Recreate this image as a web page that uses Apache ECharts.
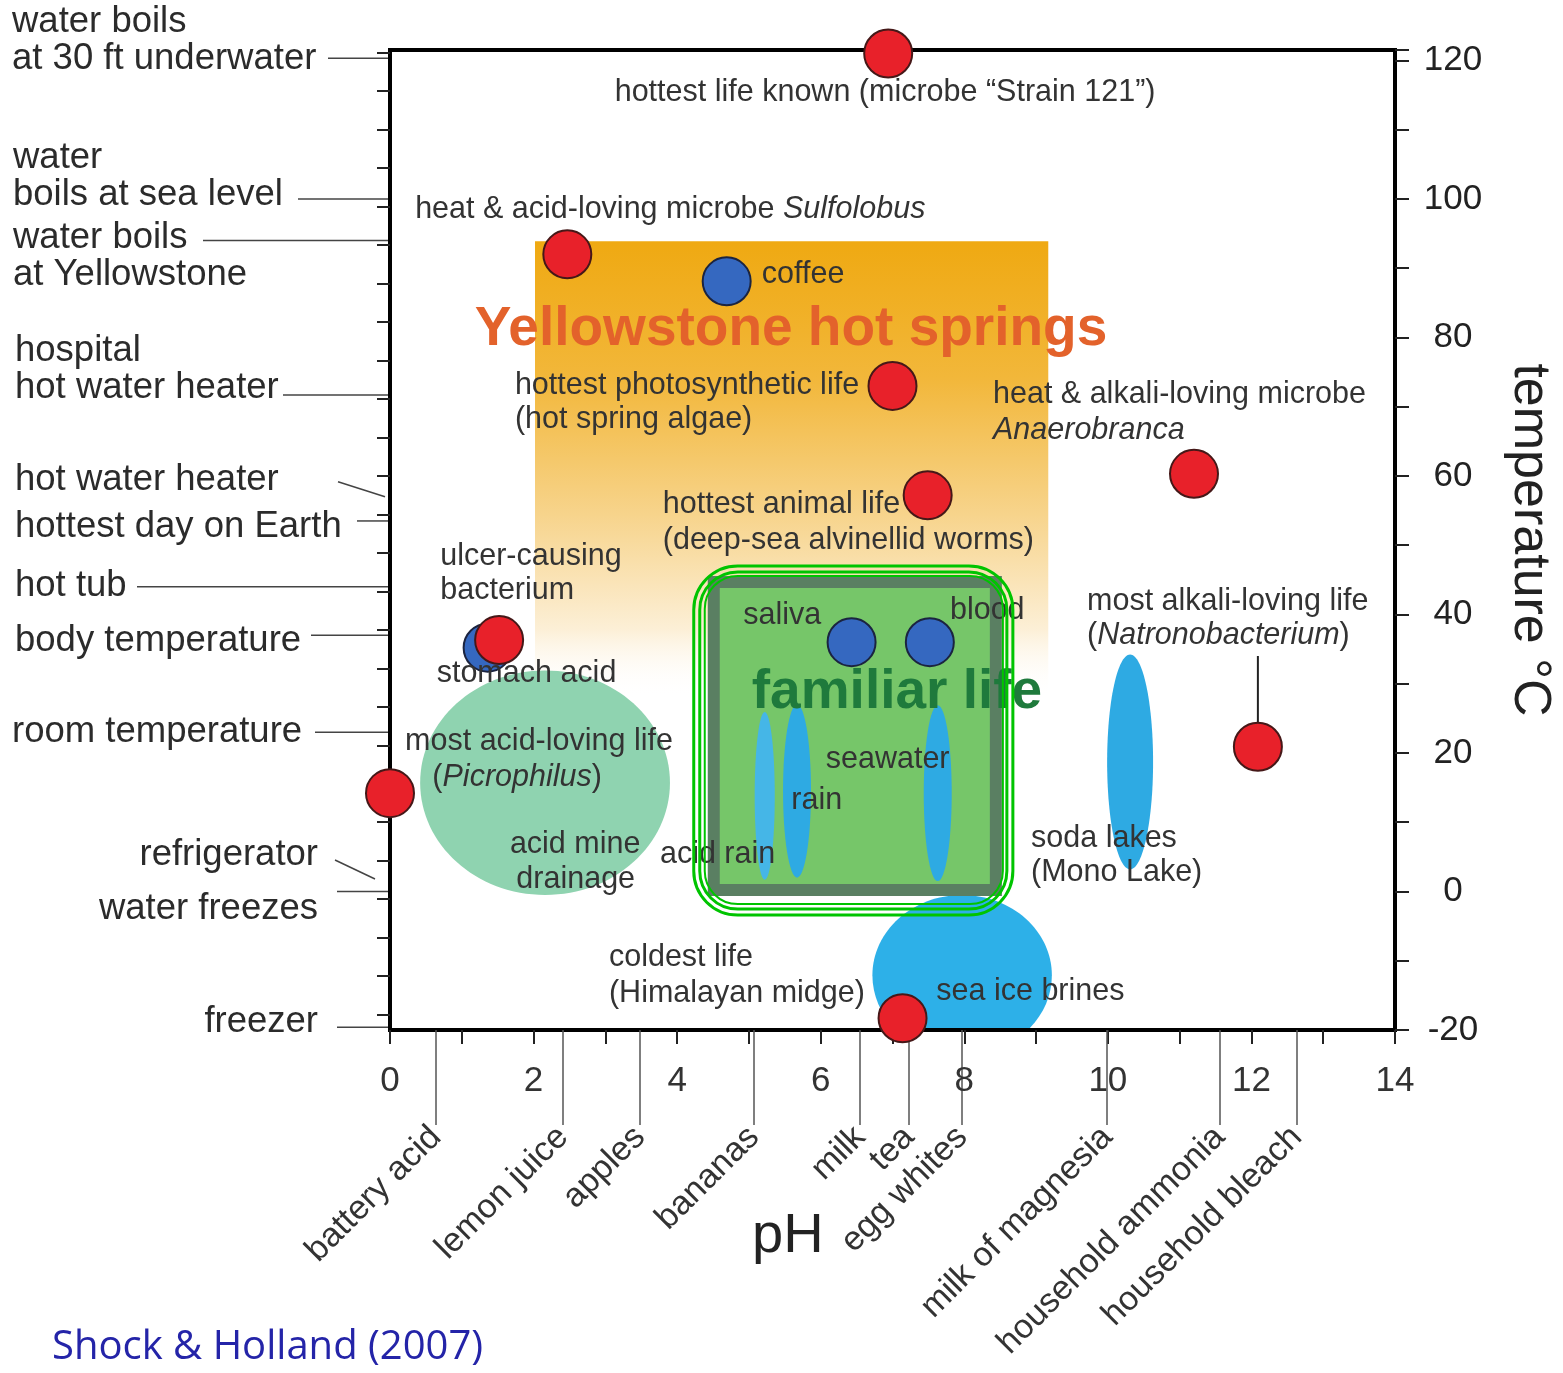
<!DOCTYPE html>
<html><head><meta charset="utf-8">
<script src="https://cdn.jsdelivr.net/npm/echarts@6/dist/echarts.min.js"></script>
<style>html,body{margin:0;padding:0;background:#fff}#c{width:1563px;height:1373px}</style>
</head><body><div id="c"></div>
<script>
// ---------------- data ----------------
const phTicks = [0, 2, 4, 6, 8, 10, 12, 14];
const tempTicks = [-20, 0, 20, 40, 60, 80, 100, 120];
const fahrenheitTicks = [0, 10, 20, 30, 40, 50, 60, 70, 80, 90, 100, 110, 120, 130, 140, 150, 160, 170, 180, 190, 200, 210, 220, 230, 240, 250];

const itemNames = ['battery acid', 'lemon juice', 'apples', 'bananas', 'milk', 'tea', 'egg whites', 'milk of magnesia', 'household ammonia', 'household bleach'];
const itemPH = [0.64, 2.41, 3.48, 5.07, 6.55, 7.23, 7.97, 9.99, 11.56, 12.63];

const lifeNames = ['hottest life known', 'Sulfolobus', 'hottest photosynthetic life', 'hottest animal life', 'Anaerobranca', 'ulcer-causing bacterium', 'Picrophilus', 'Natronobacterium', 'coldest life'];
const lifePH = [6.94, 2.47, 7.0, 7.49, 11.2, 1.52, 0.0, 12.09, 7.14];
const lifeTemp = [121, 92, 73, 57.2, 60.3, 36.3, 14.2, 20.9, -18.3];

const fluidNames = ['coffee', 'stomach acid', 'saliva', 'blood'];
const fluidPH = [4.69, 1.36, 6.43, 7.52];
const fluidTemp = [88.1, 35.2, 36.0, 36.0];

const refNames = ['water boils\nat 30 ft underwater', 'water\nboils at sea level', 'water boils\nat Yellowstone', 'hospital\nhot water heater', 'hot water heater', 'hottest day on Earth', 'hot tub', 'body temperature', 'room temperature', 'refrigerator', 'water freezes', 'freezer'];
const refTemp = [120.3, 100, 94, 71.7, 57, 53.5, 44, 37, 23, 1.8, 0, -19.6];

// regions: [pH min, pH max, T min, T max]
const yellowstoneSpan = [2.02, 9.17, 28, 93.9];
const familiarSpan = [4.51, 8.44, 0.2, 44.7];
const natronoLink = [[12.09, 34.0], [12.09, 20.9]];

// environments drawn as ellipses: centre and half extents
const blobNames = ['acid mine drainage', 'sea ice brines', 'acid rain', 'rain', 'seawater', 'soda lakes'];
const blobPH = [2.16, 7.97, 5.22, 5.67, 7.63, 10.31];
const blobTemp = [15.7, -12.1, 13.8, 14.5, 14.2, 18.7];
const blobPHHalf = [1.74, 1.25, 0.14, 0.195, 0.195, 0.32];
const blobTempHalf = [16.2, 11.6, 12.1, 12.5, 12.7, 15.5];

// ---------------- layout / style ----------------
const FONT = "'Liberation Sans', Arial, Helvetica, sans-serif";
const GRID = {left: 390, right: 168, top: 50, bottom: 343};
const Y_MAX = 121.5;
const toF = c => c * 9 / 5 + 32;
const blobColors = ['#8fd3b0', '#2db0e8', '#45b6e7', '#2eaae3', '#2eaae3', '#2eaae3'];

// annotation anchors (left / middle of text) in data space
const notes = [
  ['hottest life known (microbe “Strain 121”)', 3.13, 115.3],
  ['heat & acid-loving microbe {i|Sulfolobus}', 0.35, 98.4],
  ['coffee', 5.18, 89.0],
  ['hottest photosynthetic life', 1.74, 73.1],
  ['(hot spring algae)', 1.74, 68.1],
  ['heat & alkali-loving microbe', 8.40, 71.7],
  ['{i|Anaerobranca}', 8.40, 66.6],
  ['hottest animal life', 3.80, 55.8],
  ['(deep-sea alvinellid worms)', 3.80, 50.6],
  ['ulcer-causing', 0.70, 48.3],
  ['bacterium', 0.70, 43.4],
  ['most alkali-loving life', 9.71, 41.9],
  ['({i|Natronobacterium})', 9.71, 36.9],
  ['saliva', 4.92, 39.9],
  ['blood', 7.80, 40.5],
  ['stomach acid', 0.65, 31.5],
  ['most acid-loving life', 0.21, 21.6],
  ['({i|Picrophilus})', 0.59, 16.5],
  ['seawater', 6.07, 19.0],
  ['rain', 5.59, 13.1],
  ['acid mine', 1.67, 6.7],
  ['drainage', 1.76, 1.66],
  ['acid rain', 3.76, 5.3],
  ['soda lakes', 8.93, 7.7],
  ['(Mono Lake)', 8.93, 2.7],
  ['coldest life', 3.05, -9.6],
  ['(Himalayan midge)', 3.05, -14.7],
  ['sea ice brines', 7.61, -14.5]
];
const bigNotes = [
  ['Yellowstone hot springs', 1.18, 81.1, '#e3622b'],
  ['familiar life', 5.04, 28.7, '#1f7a3c']
];

// left reference labels: text dx, block-centre dy, leader line from/to (px, relative to axis point)
const refLayout = [
  {dx: -378, dy: -17.5, from: [-62, 0], to: [-2, 0]},
  {dx: -377, dy: -22.5, from: [-92, 0], to: [-2, 0]},
  {dx: -377, dy: 16, from: [-187, 0], to: [-2, 0]},
  {dx: -375, dy: -25, from: [-107, 0], to: [-2, 0]},
  {dx: -375, dy: -17, from: [-52, -15], to: [-5, 0]},
  {dx: -375, dy: 6, from: [-33, 0], to: [-2, 0]},
  {dx: -375, dy: -1, from: [-253, 0], to: [-2, 0]},
  {dx: -375, dy: 6, from: [-79, 0], to: [-2, 0]},
  {dx: -378, dy: 0, from: [-75, 0], to: [-2, 0]},
  {dx: -72, dy: -24, from: [-55, -19], to: [-15, 0], align: 'right'},
  {dx: -72, dy: 17, from: [-53, 0], to: [-2, 0], align: 'right'},
  {dx: -72, dy: -5, from: [-53, 0], to: [-2, 0], align: 'right'}
];
const outlineRings = [
  {l: 20, r: 17, t: 16, b: 25, radius: 44, w: 3},
  {l: 14, r: 11, t: 10, b: 19, radius: 38, w: 3},
  {l: 9, r: 7, t: 6, b: 14, radius: 33, w: 2}
];

const nearestItem = v => {
  let k = 0;
  itemPH.forEach((p, i) => { if (Math.abs(p - v) < Math.abs(itemPH[k] - v)) k = i; });
  return itemNames[k];
};

const chart = echarts.init(document.getElementById('c'), null, {renderer: 'canvas', width: 1563, height: 1373});

function blobSeries(idx, z) {
  return {
    type: 'custom', xAxisIndex: 0, yAxisIndex: 0, z: z, silent: true,
    data: idx.map(i => [blobPH[i], blobTemp[i], blobPHHalf[i], blobTempHalf[i], i]),
    renderItem: (p, api) => {
      const c = api.coord([api.value(0), api.value(1)]);
      const s = api.size([api.value(2), api.value(3)]);
      const cs = p.coordSys;
      return {
        type: 'ellipse',
        shape: {cx: c[0], cy: c[1], rx: s[0], ry: s[1]},
        style: {fill: blobColors[api.value(4)]},
        clipPath: {type: 'rect', shape: {x: cs.x, y: cs.y, width: cs.width, height: cs.height - 2}}
      };
    }
  };
}

const textStyle = (txt, size, color, weight) => ({
  text: txt, fontSize: size, fontFamily: FONT, fontWeight: weight || 'normal', fill: color,
  align: 'left', verticalAlign: 'middle',
  rich: {i: {fontStyle: 'italic', fontSize: size, fontFamily: FONT, fill: color}}
});

const option = {
  animation: false,
  backgroundColor: '#ffffff',
  textStyle: {fontFamily: FONT},
  grid: [
    Object.assign({show: true, borderColor: '#000', borderWidth: 4, backgroundColor: 'transparent', outerBoundsMode: 'none'}, GRID),
    Object.assign({show: false, outerBoundsMode: 'none'}, GRID)
  ],
  xAxis: [
    {
      type: 'value', gridIndex: 0, min: 0, max: 14, interval: 1, position: 'bottom',
      axisLine: {show: false, onZero: false}, splitLine: {show: false},
      axisTick: {show: true, length: 14, lineStyle: {color: '#222', width: 2}},
      axisLabel: {fontSize: 35, color: '#333', fontFamily: FONT, margin: 34,
        formatter: v => phTicks.includes(v) ? String(v) : ''}
    },
    {
      type: 'value', gridIndex: 1, min: 0, max: 14, position: 'bottom',
      axisLine: {show: false, onZero: false}, splitLine: {show: false},
      axisTick: {show: true, customValues: itemPH, length: 95, lineStyle: {color: '#555', width: 1.5}},
      axisLabel: {customValues: itemPH, rotate: 45, margin: 102, fontSize: 34, color: '#333', fontFamily: FONT,
        formatter: v => nearestItem(v)}
    }
  ],
  yAxis: [
    {
      type: 'value', gridIndex: 0, min: -20, max: Y_MAX, interval: 10, position: 'right',
      axisLine: {show: false, onZero: false}, splitLine: {show: false},
      axisTick: {show: true, length: 14, lineStyle: {color: '#222', width: 2}},
      axisLabel: {fontSize: 35, color: '#222', fontFamily: FONT, align: 'center', margin: 58,
        formatter: v => tempTicks.includes(v) ? String(v) : ''},
      name: 'temperature °C', nameLocation: 'middle', nameRotate: -90, nameGap: 108,
      nameTextStyle: {fontSize: 52, color: '#222', fontFamily: FONT}
    },
    {
      type: 'value', gridIndex: 0, min: toF(-20), max: toF(Y_MAX), position: 'left',
      axisLine: {show: false, onZero: false}, splitLine: {show: false},
      axisTick: {show: true, customValues: fahrenheitTicks, length: 13, lineStyle: {color: '#222', width: 2}},
      axisLabel: {show: false}
    },
    {type: 'value', gridIndex: 1, min: -20, max: Y_MAX, show: false, axisLine: {onZero: false}}
  ],
  graphic: [
    {type: 'text', x: 752, y: 1237, style: {text: 'pH', fontSize: 56, fontFamily: FONT, fill: '#222', verticalAlign: 'middle'}},
    {type: 'text', x: 52, y: 1348, style: {text: 'Shock & Holland (2007)', fontSize: 40, fontFamily: "'Open Sans', 'Noto Sans', sans-serif", fill: '#2424a8', verticalAlign: 'middle'}}
  ],
  series: [
    {
      name: 'Yellowstone hot springs', type: 'custom', xAxisIndex: 0, yAxisIndex: 0, z: 1, silent: true,
      data: [yellowstoneSpan],
      renderItem: (p, api) => {
        const a = api.coord([api.value(0), api.value(3)]);
        const b = api.coord([api.value(1), api.value(2)]);
        return {
          type: 'rect',
          shape: {x: a[0], y: a[1], width: b[0] - a[0], height: b[1] - a[1]},
          style: {fill: {type: 'linear', x: 0, y: 0, x2: 0, y2: 1, colorStops: [
            {offset: 0, color: '#efa912'}, {offset: 0.3, color: '#f2b73a'},
            {offset: 0.6, color: '#f7d48c'}, {offset: 0.85, color: '#fcefd6'},
            {offset: 1, color: 'rgba(255,255,255,0)'}]}}
        };
      }
    },
    blobSeries([0, 1], 2),
    {
      name: 'familiar life', type: 'custom', xAxisIndex: 0, yAxisIndex: 0, z: 3, silent: true,
      data: [familiarSpan],
      renderItem: (p, api) => {
        const a = api.coord([api.value(0), api.value(3)]);
        const b = api.coord([api.value(1), api.value(2)]);
        return {
          type: 'rect',
          shape: {x: a[0], y: a[1], width: b[0] - a[0], height: b[1] - a[1]},
          style: {fill: '#76c669', stroke: '#5a7f62', lineWidth: 12}
        };
      }
    },
    blobSeries([2, 3, 4, 5], 4),
    {
      name: 'Natronobacterium link', type: 'line', xAxisIndex: 0, yAxisIndex: 0, z: 4, silent: true,
      data: natronoLink, symbol: 'none', lineStyle: {color: '#222', width: 2}
    },
    {
      name: 'fluids', type: 'scatter', xAxisIndex: 0, yAxisIndex: 0, z: 5, clip: false, silent: true,
      data: fluidPH.map((x, i) => [x, fluidTemp[i]]),
      symbolSize: 48,
      itemStyle: {color: '#3568c0', borderColor: '#1b2440', borderWidth: 2, opacity: 1}
    },
    {
      name: 'life', type: 'scatter', xAxisIndex: 0, yAxisIndex: 0, z: 6, clip: false, silent: true,
      data: lifePH.map((x, i) => [x, lifeTemp[i]]),
      symbolSize: 48,
      itemStyle: {color: '#e8212a', borderColor: '#451818', borderWidth: 2, opacity: 1}
    },
    {
      name: 'outline', type: 'custom', xAxisIndex: 0, yAxisIndex: 0, z: 8, silent: true,
      data: [familiarSpan],
      renderItem: (p, api) => {
        const a = api.coord([api.value(0), api.value(3)]);
        const b = api.coord([api.value(1), api.value(2)]);
        return {
          type: 'group',
          children: outlineRings.map(r => ({
            type: 'rect',
            shape: {x: a[0] - r.l, y: a[1] - r.t, width: b[0] - a[0] + r.l + r.r, height: b[1] - a[1] + r.t + r.b, r: r.radius},
            style: {fill: null, stroke: '#00c400', lineWidth: r.w}
          }))
        };
      }
    },
    {
      name: 'notes', type: 'custom', xAxisIndex: 0, yAxisIndex: 0, z: 7, silent: true,
      data: notes.map((n, i) => [n[1], n[2], i]),
      renderItem: (p, api) => {
        const c = api.coord([api.value(0), api.value(1)]);
        const n = notes[api.value(2)];
        return {type: 'text', x: c[0], y: c[1], style: textStyle(n[0], 30.5, '#333')};
      }
    },
    {
      name: 'big notes', type: 'custom', xAxisIndex: 0, yAxisIndex: 0, z: 7, silent: true,
      data: bigNotes.map((n, i) => [n[1], n[2], i]),
      renderItem: (p, api) => {
        const c = api.coord([api.value(0), api.value(1)]);
        const n = bigNotes[api.value(2)];
        return {type: 'text', x: c[0], y: c[1], style: textStyle(n[0], 55, n[3], 'bold')};
      }
    },
    {
      name: 'reference temperatures', type: 'custom', xAxisIndex: 0, yAxisIndex: 0, z: 7, silent: true,
      data: refTemp.map((t, i) => [0, t, i]),
      renderItem: (p, api) => {
        const i = api.value(2);
        const o = api.coord([0, api.value(1)]);
        const L = refLayout[i];
        return {
          type: 'group',
          children: [
            {type: 'text', x: o[0] + L.dx, y: o[1] + L.dy, style: {
              text: refNames[i], fontSize: 36.5, fontFamily: FONT, fill: '#2b2b2b', lineHeight: 37,
              align: L.align || 'left', verticalAlign: 'middle'}},
            {type: 'line', shape: {x1: o[0] + L.from[0], y1: o[1] + L.from[1], x2: o[0] + L.to[0], y2: o[1] + L.to[1]},
              style: {stroke: '#444', lineWidth: 1.5}}
          ]
        };
      }
    }
  ]
};
chart.setOption(option);
</script>
</body></html>
